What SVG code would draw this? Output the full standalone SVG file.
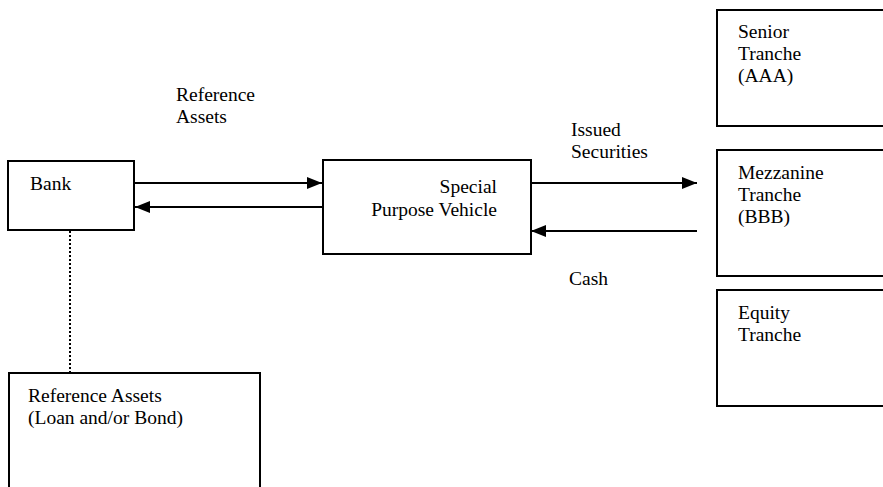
<svg xmlns="http://www.w3.org/2000/svg" width="883" height="487" viewBox="0 0 883 487">
<style>
.box{fill:#fff;stroke:#000;stroke-width:2}
.t{font-family:"Liberation Serif","Times New Roman",serif;font-size:19.5px;fill:#000}
.c{stroke:#000;stroke-width:2;fill:none}
</style>
<defs>
<marker id="ah" viewBox="0 0 15 12" refX="15" refY="6" markerWidth="15" markerHeight="12" markerUnits="userSpaceOnUse" orient="auto">
<path d="M0,0 L15,6 L0,12 Z" fill="#000"/>
</marker>
</defs>
<rect width="883" height="487" fill="#fff"/>
<g id="connectors">
<line class="c" x1="134" y1="183" x2="322" y2="183" marker-end="url(#ah)"/>
<line class="c" x1="322" y1="207" x2="135" y2="207" marker-end="url(#ah)"/>
<line class="c" x1="531" y1="183" x2="697" y2="183" marker-end="url(#ah)"/>
<line class="c" x1="697" y1="231" x2="531" y2="231" marker-end="url(#ah)"/>
<line x1="70" y1="231" x2="70" y2="372" stroke="#000" stroke-width="2" stroke-dasharray="2,2"/>
</g>
<g id="labels">
<text class="t" x="176" y="101">Reference</text>
<text class="t" x="176" y="123">Assets</text>
<text class="t" x="571" y="136">Issued</text>
<text class="t" x="571" y="158">Securities</text>
<text class="t" x="569" y="285">Cash</text>
</g>
<g id="bank">
<rect class="box" x="8" y="161" width="126" height="69"/>
<text class="t" x="30" y="190">Bank</text>
</g>
<g id="spv">
<rect class="box" x="323" y="160" width="208" height="94"/>
<text class="t" x="497" y="193" text-anchor="end">Special</text>
<text class="t" x="497" y="216" text-anchor="end">Purpose Vehicle</text>
</g>
<g id="refassets">
<rect class="box" x="9" y="373" width="251" height="120"/>
<text class="t" x="28" y="402">Reference Assets</text>
<text class="t" x="28" y="424">(Loan and/or Bond)</text>
</g>
<g id="senior">
<rect class="box" x="717" y="10" width="180" height="116"/>
<text class="t" x="738" y="38">Senior</text>
<text class="t" x="738" y="60">Tranche</text>
<text class="t" x="738" y="82">(AAA)</text>
</g>
<g id="mezzanine">
<rect class="box" x="717" y="150" width="180" height="126"/>
<text class="t" x="738" y="179">Mezzanine</text>
<text class="t" x="738" y="201">Tranche</text>
<text class="t" x="738" y="223">(BBB)</text>
</g>
<g id="equity">
<rect class="box" x="717" y="290" width="180" height="116"/>
<text class="t" x="738" y="319">Equity</text>
<text class="t" x="738" y="341">Tranche</text>
</g>
</svg>
